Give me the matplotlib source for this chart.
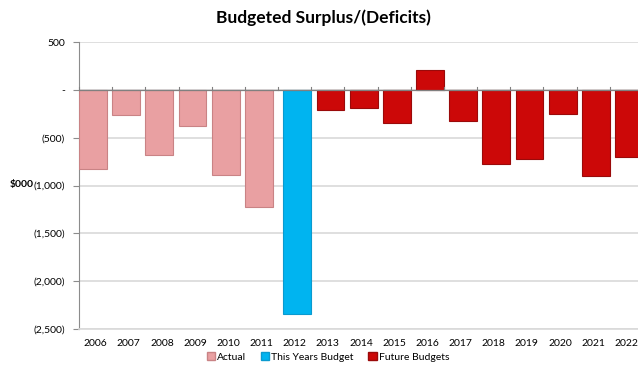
import matplotlib.pyplot as plt
import numpy as np
from matplotlib.patches import Patch
from matplotlib.ticker import FuncFormatter

plt.rcParams['font.family'] = ['Lato', 'DejaVu Sans']

years = ['2006', '2007', '2008', '2009', '2010', '2011', '2012', '2013', '2014',
         '2015', '2016', '2017', '2018', '2019', '2020', '2021', '2022']
actual = [-830, -260, -680, -380, -890, -1220]
this_year = [-2340]
future = [-210, -190, -350, 210, -330, -780, -720, -250, -900, -700]

pink = '#E9A0A2'
blue = '#00B4F0'
red = '#CC0808'

x = np.arange(len(years))
n_act = len(actual)
x_act = x[:n_act]
x_this = x[n_act:n_act + 1]
x_fut = x[n_act + 1:]

fig = plt.figure(figsize=(6.38, 3.71), dpi=100)
# axes run past the right edge, so the last bar is cut off
ax = fig.add_axes([79 / 638, 42 / 371, 564 / 638, 287 / 371])

w = 0.84
ax.bar(x_act - 0.08, actual, width=w, color=pink, edgecolor='#C98385', linewidth=0.8, zorder=3)
ax.bar(x_this + 0.08, this_year, width=w, color=blue, edgecolor='#0A9ACF', linewidth=0.8, zorder=3)
ax.bar(x_fut + 0.08, future, width=w, color=red, edgecolor='#9A0A0A', linewidth=0.8, zorder=3)

ax.set_xlim(-0.5, len(years) - 0.5)
ax.set_ylim(-2500, 500)
ax.set_yticks(np.arange(-2500, 501, 500))


def fmt(v, pos):
    if v == 0:
        return '-'
    if v < 0:
        return '({:,.0f})'.format(-v)
    return '{:,.0f}'.format(v)


ax.yaxis.set_major_formatter(FuncFormatter(fmt))
ax.grid(axis='y', color='#D9D9D9', linewidth=1.2, zorder=0)
ax.axhline(0, color='#808080', linewidth=0.9, zorder=4)

for s in ['top', 'right']:
    ax.spines[s].set_visible(False)
ax.spines['left'].set_color('#8C8C8C')
ax.spines['bottom'].set_color('#D9D9D9')
ax.spines['bottom'].set_linewidth(1.2)

ax.tick_params(axis='y', length=4, color='#8C8C8C', labelsize=7.5, pad=6)
ax.tick_params(axis='x', length=0, labelsize=7.5, pad=7)
ax.set_xticks(x)
ax.set_xticklabels(years)

# small category ticks sitting on the zero line
for b in np.arange(-0.5, len(years), 1.0):
    ax.plot([b, b], [0, 30], color='#808080', linewidth=0.8, zorder=4, clip_on=False)

fig.text(323 / 638, 1 - 18 / 371, 'Budgeted Surplus/(Deficits)', ha='center', va='center',
         fontsize=12.5, fontweight='bold')
fig.text(22 / 638, 1 - 185 / 371, '$000', ha='center', va='center', fontsize=7.5, fontweight='bold')

handles = [Patch(facecolor=pink, edgecolor='#C98385'),
           Patch(facecolor=blue, edgecolor='#0A9ACF'),
           Patch(facecolor=red, edgecolor='#9A0A0A')]
fig.legend(handles, ['Actual', 'This Years Budget', 'Future Budgets'],
           loc='center', bbox_to_anchor=(328 / 638, 1 - 357 / 371), ncol=3, frameon=False,
           fontsize=7.5, handlelength=0.8, handleheight=0.8, handletextpad=0.2, columnspacing=1.4)

fig.savefig('out.png', dpi=100)
